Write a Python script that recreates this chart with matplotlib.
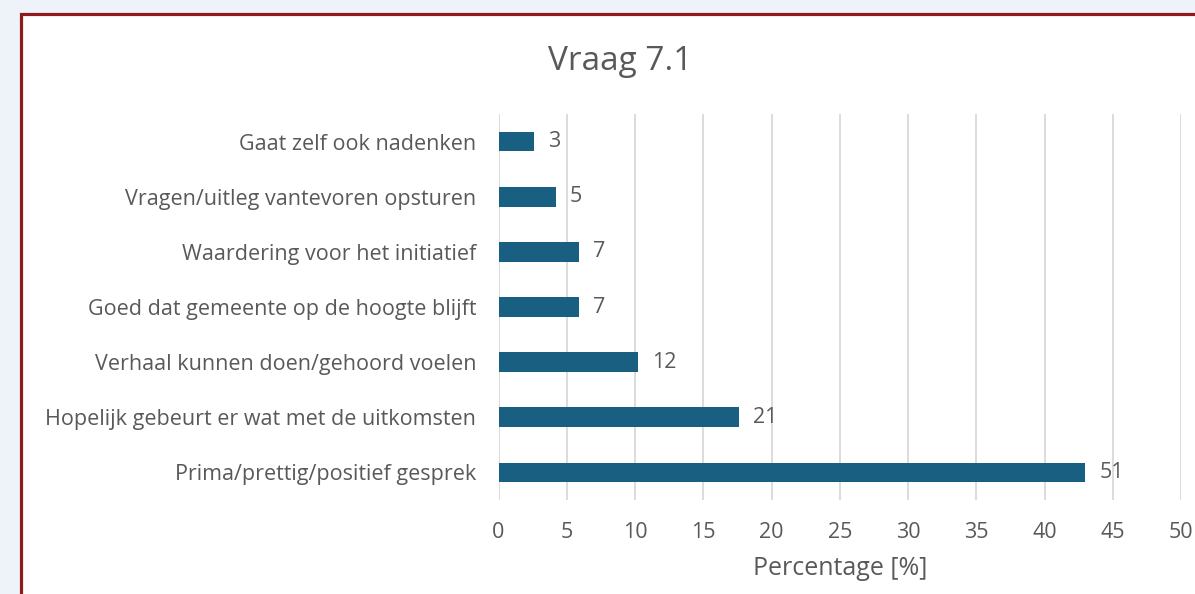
import matplotlib
matplotlib.use("Agg")
import matplotlib.pyplot as plt
from matplotlib.patches import Rectangle

categories = [
    "Gaat zelf ook nadenken",
    "Vragen/uitleg vantevoren opsturen",
    "Waardering voor het initiatief",
    "Goed dat gemeente op de hoogte blijft",
    "Verhaal kunnen doen/gehoord voelen",
    "Hopelijk gebeurt er wat met de uitkomsten",
    "Prima/prettig/positief gesprek",
]
percentages = [2.6, 4.2, 5.9, 5.9, 10.2, 17.6, 43.0]
counts = [3, 5, 7, 7, 12, 21, 51]
xticks = [0, 5, 10, 15, 20, 25, 30, 35, 40, 45, 50]

TEXT = "#595959"
BAR = "#185F82"
GRID = "#D9D9D9"
FONT = ["Open Sans", "DejaVu Sans"]
FS = 15.5

W, H = 1195, 594
fig = plt.figure(figsize=(W / 100, H / 100), dpi=100)
fig.patch.set_facecolor("#EEF3F9")

# white chart area with dark red border (cropped on right and bottom)
x0, ytop = 21 / W, 1 - 14 / H
fig.patches.append(Rectangle((x0, -0.2), 1.2, ytop + 0.2, transform=fig.transFigure,
                             facecolor="white", edgecolor="#8E1B1B", linewidth=2.3,
                             zorder=-5))

ax = fig.add_axes([498.5 / W, 1 - 500 / H, (1181 - 498.5) / W, 386 / H])
ax.set_facecolor("none")
ax.set_zorder(2)

ypos = list(range(len(categories)))
ax.barh(ypos, percentages, height=0.36, color=BAR, zorder=3)
for y, p, c in zip(ypos, percentages, counts):
    ax.annotate(str(c), xy=(p, y), xytext=(10, 0), textcoords="offset points",
                ha="left", va="center", fontsize=FS, color=TEXT, family=FONT)

ax.set_ylim(len(categories) - 0.5, -0.5)
ax.set_xlim(0, 50)
ax.set_yticks(ypos)
ax.set_yticklabels(categories, fontsize=FS, color=TEXT, family=FONT)
ax.set_xticks(xticks)
ax.set_xticklabels([str(t) for t in xticks], fontsize=FS, color=TEXT, family=FONT)
ax.tick_params(axis="both", length=0)
ax.tick_params(axis="y", pad=16)
ax.tick_params(axis="x", pad=16)
ax.grid(axis="x", color=GRID, linewidth=1.3, zorder=0)
ax.set_axisbelow(True)
for s in ax.spines.values():
    s.set_visible(False)

ax.set_xlabel("Percentage [%]", fontsize=18, color=TEXT, family=FONT, labelpad=9)

fig.text(620 / W, 1 - 62 / H, "Vraag 7.1", ha="center", va="center",
         fontsize=24, color=TEXT, family=FONT, zorder=3)

fig.savefig("out.png", dpi=100, facecolor=fig.get_facecolor())
